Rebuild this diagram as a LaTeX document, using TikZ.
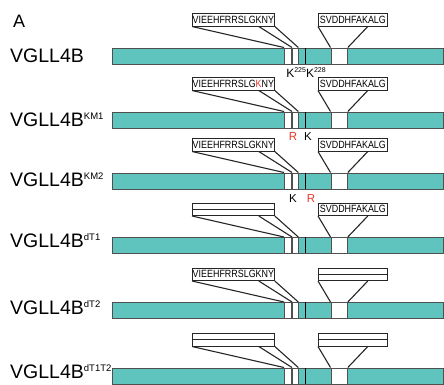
\documentclass[tikz,border=0pt]{standalone}
\usepackage{fontspec}
\setmainfont{Liberation Sans}
\newfontfamily\motiffont[FakeStretch=0.85]{Liberation Sans}
\usepackage{xcolor}
\usepackage{tikz}

\definecolor{barteal}{RGB}{95,196,190}
\definecolor{edgegray}{RGB}{80,80,80}
\definecolor{mutred}{RGB}{232,52,40}
\newcommand{\suplab}[1]{\raisebox{7pt}{\fontsize{9.5}{9.5}\selectfont #1}}
\newcommand{\ksite}[1]{\raisebox{4.6pt}{\fontsize{7}{7}\selectfont #1}}

\begin{document}
\begin{tikzpicture}[x=1pt,y=-1pt,
  bar/.style={draw=edgegray,fill=barteal,line width=0.9pt,minimum height=16pt,inner sep=0pt,anchor=north west},
  seg/.style={draw=edgegray,fill=white,line width=0.8pt,minimum height=16pt,inner sep=0pt,anchor=north west},
  callout/.style={draw=black!85,fill=white,line width=0.8pt,minimum height=12.5pt,inner sep=0pt,anchor=south west,font=\motiffont\fontsize{10.5}{11}\selectfont},
  link/.style={black!85,line width=1.1pt},
  rowlab/.style={anchor=base west,inner sep=0pt,font=\fontsize{19.5}{22}\selectfont},
  site/.style={anchor=base,inner sep=0pt,font=\fontsize{11.5}{12}\selectfont}]
\useasboundingbox (0,0) rectangle (444,384);
\node[anchor=base west,inner sep=0pt,font=\fontsize{18}{18}\selectfont] (panel) at (13,27) {A};
% row labels
\node[rowlab] (lab1) at (10,62.7) {VGLL4B};
\node[rowlab] (lab2) at (10,126) {VGLL4B\suplab{KM1}};
\node[rowlab] (lab3) at (10,186.5) {VGLL4B\suplab{KM2}};
\node[rowlab] (lab4) at (10,247) {VGLL4B\suplab{dT1}};
\node[rowlab] (lab5) at (10,314) {VGLL4B\suplab{dT2}};
\node[rowlab] (lab6) at (10,378) {VGLL4B\suplab{dT1T2}};
% expanded motifs
\node[callout,minimum width=82pt] (tl1) at (192,26.5) {VIEEHFRRSLGKNY};
\node[callout,minimum width=69pt] (tr1) at (318,26.5) {SVDDHFAKALG};
\node[callout,minimum width=82pt] (tl2) at (192,90.5) {VIEEHFRRSLG\textcolor{mutred}{K}NY};
\node[callout,minimum width=69pt] (tr2) at (318,90.5) {SVDDHFAKALG};
\node[callout,minimum width=82pt] (tl3) at (192,151.5) {VIEEHFRRSLGKNY};
\node[callout,minimum width=69pt] (tr3) at (318,151.5) {SVDDHFAKALG};
\node[callout,minimum width=82pt] (tl4) at (192,216) {};
\node[callout,minimum width=69pt] (tr4) at (318,216) {SVDDHFAKALG};
\node[callout,minimum width=82pt] (tl5) at (192,281) {VIEEHFRRSLGKNY};
\node[callout,minimum width=69pt] (tr5) at (318,281) {};
\node[callout,minimum width=82pt] (tl6) at (192,346.5) {};
\node[callout,minimum width=69pt] (tr6) at (318,346.5) {};
% deleted motifs
\draw[black!85,line width=0.8pt] (tl4.west) -- (tl4.east);
\draw[black!85,line width=0.8pt] (tr5.west) -- (tr5.east);
\draw[black!85,line width=0.8pt] (tl6.west) -- (tl6.east);
\draw[black!85,line width=0.8pt] (tr6.west) -- (tr6.east);
% protein bars
\foreach \r/\y in {1/47.5,2/111.5,3/172.5,4/237,5/302,6/367.5}{
  \node[bar,minimum width=331pt] (bar\r) at (112,\y) {};
  \node[seg,minimum width=7pt] (sa\r) at (284,\y) {};
  \node[seg,minimum width=5.5pt] (sb\r) at (292,\y) {};
  \node[seg,minimum width=16.5pt] (sc\r) at (330.5,\y) {};
  \draw[black,line width=1.3pt] (305.5,\y) -- ++(0,16);
  \draw[link] (tl\r.south west) -- (sa\r.north west);
  \draw[link] ([xshift=-16pt]tl\r.south east) -- (sb\r.north west);
  \draw[link] (tl\r.south east) -- (sb\r.north east);
  \draw[link] (tr\r.south west) -- (sc\r.north west);
  \draw[link] ([xshift=-20pt]tr\r.south east) -- (sc\r.north east);
}
% lysine sites
\node[site,font=\fontsize{12}{12}\selectfont] (k1) at (306,77.5) {K\ksite{225}K\ksite{228}};
\node[site,text=mutred] (r2) at (293,140) {R};
\node[site] (k2) at (308,140) {K};
\node[site] (k3) at (293,202.7) {K};
\node[site,text=mutred] (r3) at (311,202.7) {R};
\end{tikzpicture}
\end{document}
